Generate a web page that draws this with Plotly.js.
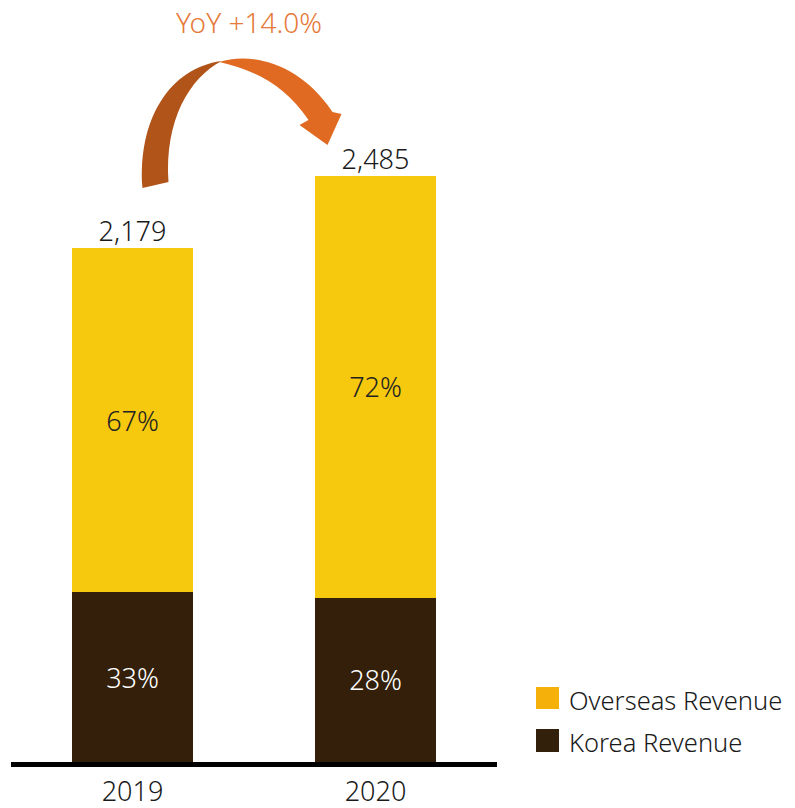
<!DOCTYPE html>
<html>
<head>
<meta charset="utf-8">
<script src="https://cdn.plot.ly/plotly-3.0.1.min.js"></script>
<style>
  html, body { margin: 0; padding: 0; background: #fff; }
  #chart { width: 795px; height: 808px; }
</style>
</head>
<body>
<div id="chart"></div>
<script>
var years = ['2019', '2020'];
var totals = [2179, 2485];
var koreaPct = [33, 28];
var overseasPct = [67, 72];
var yoyLabel = 'YoY +14.0%';

var korea = totals.map(function (t, i) { return Math.round(t * koreaPct[i] / 100); });
var overseas = totals.map(function (t, i) { return t - korea[i]; });

var FONT = '"Noto Sans", "Open Sans", sans-serif';
var W = 300;
var YMAX = 3229;
var K = 762 / YMAX;          // px per unit (plot height 762)

// pixel helpers used only for the decorative arrow / manual legend
function dx(X) { return (X - 133) / 243; }
function dy(Y) { return (762 - Y) / K; }
function P(X, Y) { return dx(X).toFixed(4) + ',' + dy(Y).toFixed(1); }
function px(X) { return (X - 11) / 486; }
function py(Y) { return (762 - Y) / 762; }

var koreaTrace = {
  x: years, y: korea, type: 'bar', name: 'Korea Revenue',
  width: 0.5,
  marker: { color: '#331F0A' },
  text: koreaPct.map(function (p) { return p + '%'; }),
  textposition: 'inside', insidetextanchor: 'middle',
  textfont: { color: '#ffffff', size: 27, family: FONT, weight: W },
  hoverinfo: 'none', showlegend: false
};

var overseasTrace = {
  x: years, y: overseas, type: 'bar', name: 'Overseas Revenue',
  width: 0.5,
  marker: { color: '#F6C90E' },
  text: overseasPct.map(function (p) { return p + '%'; }),
  textposition: 'inside', insidetextanchor: 'middle',
  textfont: { color: '#222222', size: 27, family: FONT, weight: W },
  hoverinfo: 'none', showlegend: false
};

var totalTrace = {
  x: years, y: totals, type: 'scatter', mode: 'text',
  text: totals.map(function (t) { return t.toLocaleString('en-US'); }),
  textposition: 'top center',
  textfont: { color: '#1a1a1a', size: 27, family: FONT, weight: W },
  hoverinfo: 'none', showlegend: false, cliponaxis: false
};

var darkPart = 'M' + P(143, 188) + ' C' + P(138, 120) + ' ' + P(170, 68) + ' ' + P(222, 61) +
  ' C' + P(190, 78) + ' ' + P(165, 120) + ' ' + P(169, 182) + ' Z';
var orangePart = 'M' + P(220, 62) + ' C' + P(250, 52) + ' ' + P(300, 62) + ' ' + P(333, 112) +
  ' L' + P(342, 114) + ' L' + P(328, 145) + ' L' + P(300, 125) + ' L' + P(309, 120) +
  ' C' + P(285, 85) + ' ' + P(255, 70) + ' ' + P(220, 62) + ' Z';

var layout = {
  width: 795, height: 808,
  margin: { l: 11, r: 298, t: 0, b: 46 },
  paper_bgcolor: '#ffffff', plot_bgcolor: '#ffffff',
  barmode: 'stack',
  showlegend: false,
  font: { family: FONT, color: '#1a1a1a', weight: W },
  xaxis: {
    type: 'category', range: [-0.5, 1.5],
    showline: true, linecolor: '#000000', linewidth: 5,
    showgrid: false, zeroline: false, ticks: '',
    tickfont: { size: 27, color: '#1a1a1a', family: FONT, weight: W },
    ticklabelstandoff: 2,
    fixedrange: true
  },
  yaxis: {
    range: [0, YMAX], visible: false, showgrid: false, zeroline: false, fixedrange: true
  },
  shapes: [
    { type: 'path', xref: 'x', yref: 'y', path: darkPart, fillcolor: '#B0541A', line: { width: 0 }, layer: 'above' },
    { type: 'path', xref: 'x', yref: 'y', path: orangePart, fillcolor: '#E06A22', line: { width: 0 }, layer: 'above' },
    { type: 'rect', xref: 'paper', yref: 'paper', x0: px(536), x1: px(559), y0: py(687), y1: py(709),
      fillcolor: '#F5B00A', line: { width: 0 } },
    { type: 'rect', xref: 'paper', yref: 'paper', x0: px(536), x1: px(559), y0: py(729), y1: py(752),
      fillcolor: '#33200B', line: { width: 0 } }
  ],
  annotations: [
    { xref: 'paper', yref: 'paper', x: px(249), y: py(22), text: yoyLabel, showarrow: false,
      xanchor: 'center', yanchor: 'middle', font: { size: 28, color: '#E57A3A', family: FONT, weight: W } },
    { xref: 'paper', yref: 'paper', x: px(567), y: py(700), text: 'Overseas Revenue', showarrow: false,
      xanchor: 'left', yanchor: 'middle', font: { size: 25.5, color: '#1a1a1a', family: FONT, weight: W } },
    { xref: 'paper', yref: 'paper', x: px(567), y: py(742), text: 'Korea Revenue', showarrow: false,
      xanchor: 'left', yanchor: 'middle', font: { size: 25.5, color: '#1a1a1a', family: FONT, weight: W } }
  ]
};

Plotly.newPlot('chart', [koreaTrace, overseasTrace, totalTrace], layout, { displayModeBar: false, staticPlot: true });
</script>
</body>
</html>
